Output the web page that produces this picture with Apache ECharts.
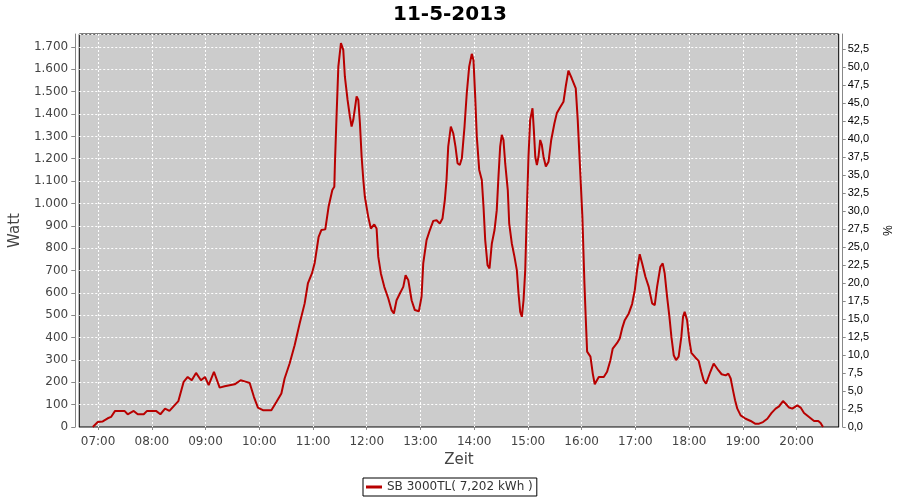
<!DOCTYPE html>
<html>
<head>
<meta charset="utf-8">
<script src="https://cdn.jsdelivr.net/npm/echarts@6/dist/echarts.min.js"></script>
<style>html,body{margin:0;padding:0;background:#fff}#c{width:900px;height:500px}</style>
</head>
<body>
<div id="c"></div>
<script>
// time in minutes since midnight
const minutes = [414.1,419.7,425.2,430.8,434.5,439.0,449.5,453.1,459.8,464.3,471.0,474.7,484.7,489.6,494.8,499.7,505.3,509.7,515.6,520.1,524.6,529.4,534.9,539.4,543.5,549.4,555.8,561.4,572.5,579.2,585.6,589.3,594.1,598.5,604.1,613.5,619.1,624.7,628.3,633.9,639.5,645.1,650.7,654.3,658.8,661.8,666.3,669.3,673.7,677.4,681.6,683.8,684.5,686.4,688.3,691.2,693.8,695.6,698.6,701.2,703.1,705.0,708.7,710.6,712.4,714.3,716.2,717.9,721.7,724.6,728.4,731.0,732.9,735.8,739.6,744.1,747.7,750.3,753.3,757.0,760.8,763.4,766.4,770.1,773.7,778.2,781.2,783.1,786.8,790.5,794.3,798.0,801.6,804.6,807.2,809.1,811.0,813.9,816.6,819.1,821.4,823.9,826.2,829.2,831.7,834.4,837.3,839.2,841.1,842.9,845.6,848.5,850.4,852.3,854.9,857.1,859.7,862.7,865.2,867.1,869.0,870.8,872.7,874.6,877.5,879.1,882.0,885.0,887.6,889.5,891.4,893.2,895.1,897.0,898.8,900.6,902.5,905.1,906.6,908.2,910.0,911.8,913.7,915.5,917.4,920.0,923.0,926.0,929.6,932.2,936.0,939.7,942.2,945.2,948.9,953.4,955.6,958.3,960.8,963.1,964.5,966.1,969.8,972.4,974.6,979.1,984.7,988.4,992.1,994.7,999.6,1002.5,1005.2,1008.1,1012.6,1016.3,1019.3,1021.9,1024.8,1027.5,1031.2,1034.9,1038.7,1041.6,1044.2,1047.9,1050.5,1052.7,1055.4,1058.0,1060.2,1062.8,1065.4,1068.3,1071.3,1073.2,1075.0,1077.7,1080.2,1082.5,1086.9,1090.6,1093.6,1096.2,1098.9,1101.1,1103.7,1107.4,1109.3,1112.6,1116.3,1120.8,1123.8,1126.4,1129.0,1131.3,1133.8,1137.5,1143.1,1148.7,1153.6,1158.1,1162.5,1167.3,1172.1,1176.6,1180.4,1184.8,1187.8,1191.6,1195.2,1200.8,1204.5,1208.3,1213.9,1219.5,1224.2,1226.8,1229.5];
const watt = [0,22,25,39,45,72,72,57,72,57,57,72,72,57,82,72,97,116,202,224,209,242,209,224,187,247,176,182,191,209,202,197,134,87,75,75,112,150,217,284,366,463,553,642,687,732,851,881,884,985,1060,1075,1180,1403,1612,1717,1687,1567,1463,1389,1344,1374,1479,1463,1359,1209,1105,1030,940,888,906,888,761,687,627,575,523,508,567,597,627,679,657,567,523,518,582,732,836,881,922,925,910,933,1015,1105,1254,1344,1314,1254,1180,1172,1202,1344,1493,1612,1669,1642,1479,1300,1150,1105,985,836,724,709,821,881,970,1120,1254,1307,1284,1180,1060,910,821,761,702,597,515,493,567,702,970,1209,1374,1426,1329,1209,1172,1209,1284,1262,1209,1165,1187,1284,1359,1403,1430,1455,1523,1594,1560,1515,1374,1150,940,642,493,337,315,239,191,224,224,247,299,351,376,396,441,478,508,550,612,702,773,732,672,627,553,545,627,717,732,687,582,493,403,321,299,315,403,493,515,478,388,332,311,296,247,209,194,194,247,284,287,254,236,231,239,217,164,120,82,52,37,27,15,15,22,37,63,82,92,116,104,87,82,97,87,63,45,27,27,18,0];
const hourTicks = [420,480,540,600,660,720,780,840,900,960,1020,1080,1140,1200];
const seriesName = 'SB 3000TL( 7,202 kWh )';
const titleText = '11-5-2013';

const data = minutes.map((m, i) => [m, watt[i]]);
const pad = n => (n < 10 ? '0' : '') + n;
const fmtTime = v => pad(Math.floor(v / 60)) + ':' + pad(Math.round(v % 60));
const fmtWatt = v => String(Math.round(v)).replace(/\B(?=(\d{3})+(?!\d))/g, '.');
const fmtPct = v => v.toFixed(1).replace('.', ',');

const chart = echarts.init(document.getElementById('c'), null, {renderer: 'canvas'});
chart.setOption({
  animation: false,
  backgroundColor: '#ffffff',
  title: {
    text: titleText, left: 'center', top: 0,
    textStyle: {fontFamily: 'DejaVu Sans', fontWeight: 'bold', fontSize: 20, color: '#000'}
  },
  legend: {
    data: [seriesName],
    left: 363, top: 478,
    padding: [3, 4, 3, 3],
    borderColor: '#000', borderWidth: 1,
    itemWidth: 16, itemHeight: 3, icon: 'rect',
    textStyle: {fontFamily: 'DejaVu Sans', fontSize: 12, color: '#333'}
  },
  grid: {
    left: 79, top: 34, width: 760, height: 393,
    show: true, backgroundColor: '#cccccc', borderColor: '#000', borderWidth: 1,
    containLabel: false
  },
  xAxis: {
    type: 'value', min: 399, max: 1247,
    offset: 4,
    name: 'Zeit', nameLocation: 'middle', nameGap: 20,
    nameTextStyle: {fontFamily: 'DejaVu Sans', fontSize: 15, color: '#444'},
    axisLine: {show: true, lineStyle: {color: '#888', width: 1}},
    axisTick: {show: true, length: 3, lineStyle: {color: '#888'}, customValues: hourTicks},
    axisLabel: {customValues: hourTicks, formatter: fmtTime, margin: 5,
      fontFamily: 'DejaVu Sans', fontSize: 12, color: '#444'},
    splitLine: {show: true, lineStyle: {color: '#fff', type: [2, 2], width: 1}}
  },
  yAxis: [{
    type: 'value', min: 0, max: 1758, interval: 100,
    position: 'left', offset: 4,
    name: 'Watt', nameLocation: 'middle', nameGap: 48,
    nameTextStyle: {fontFamily: 'DejaVu Sans', fontSize: 15, color: '#444'},
    axisLine: {show: true, lineStyle: {color: '#888', width: 1}},
    axisTick: {show: true, length: 4, lineStyle: {color: '#888'}},
    axisLabel: {formatter: fmtWatt, showMaxLabel: false, margin: 7,
      fontFamily: 'DejaVu Sans', fontSize: 12, color: '#444'},
    splitLine: {show: true, lineStyle: {color: '#fff', type: [2, 2], width: 1}}
  }, {
    type: 'value', min: 0, max: 54.65, interval: 2.5,
    position: 'right', offset: 4,
    name: '%', nameLocation: 'middle', nameGap: 33, nameRotate: -90,
    nameTextStyle: {fontFamily: 'Liberation Sans', fontSize: 12, color: '#000'},
    axisLine: {show: true, lineStyle: {color: '#888', width: 1}},
    axisTick: {show: true, length: 3, lineStyle: {color: '#888'}},
    axisLabel: {formatter: fmtPct, showMaxLabel: false, margin: 5,
      fontFamily: 'Liberation Sans', fontSize: 11, color: '#000'},
    splitLine: {show: false}
  }],
  series: [{
    name: seriesName, type: 'line', yAxisIndex: 0,
    data: data, showSymbol: false, symbol: 'none',
    lineStyle: {color: '#b80000', width: 2},
    itemStyle: {color: '#b80000'}
  }]
});
</script>
</body>
</html>
